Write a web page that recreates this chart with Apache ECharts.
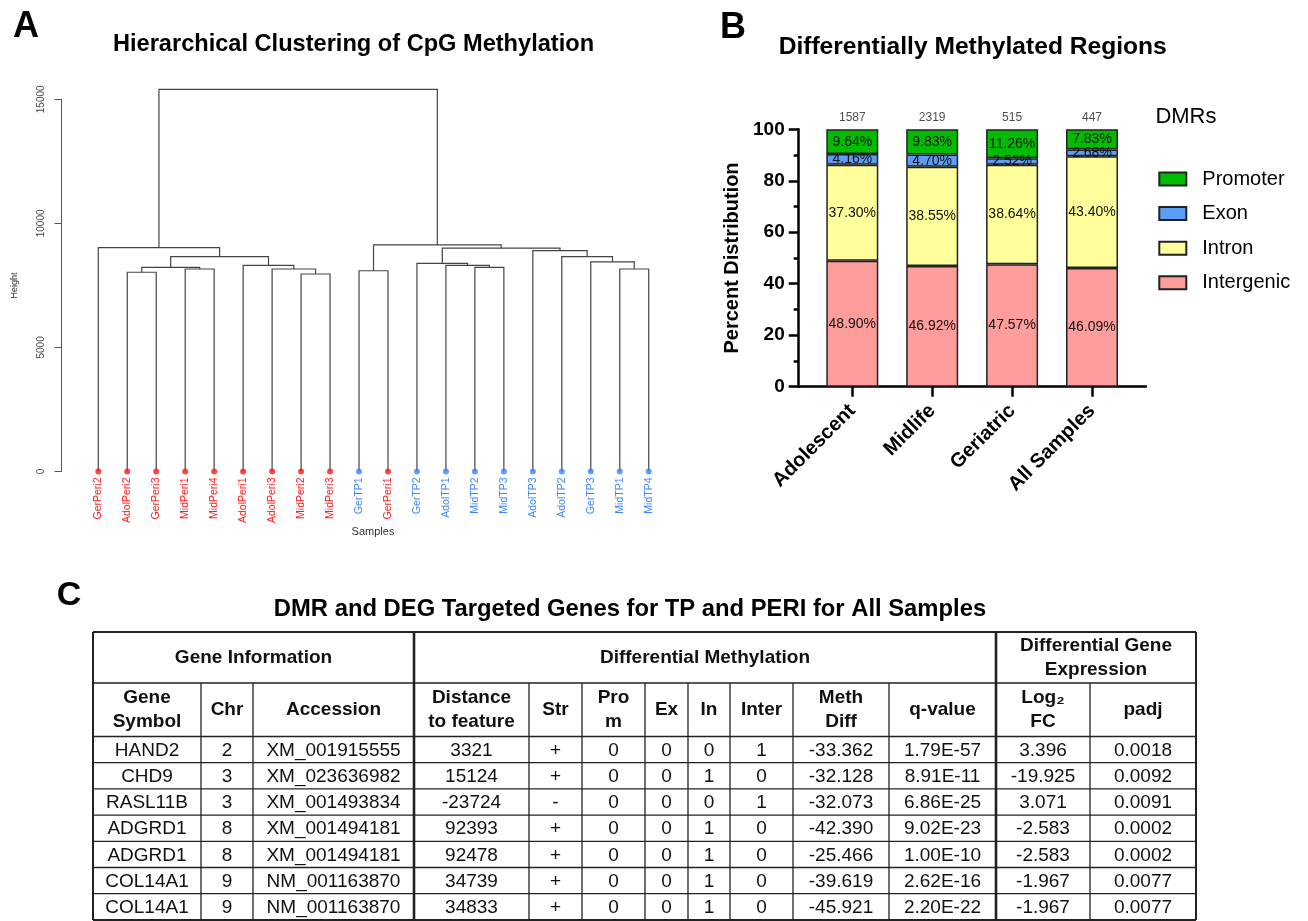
<!DOCTYPE html>
<html>
<head>
<meta charset="utf-8">
<script src="https://cdn.jsdelivr.net/npm/echarts@6/dist/echarts.min.js"></script>
<style>
  html, body { margin: 0; padding: 0; background: #fff; }
  #main { width: 1308px; height: 921px; }
</style>
</head>
<body>
<div id="main"></div>
<script>
// ---- panel A : dendrogram data ----
var leafLabels = ['GerPeri2', 'AdolPeri2', 'GerPeri3', 'MidPeri1', 'MidPeri4', 'AdolPeri1', 'AdolPeri3', 'MidPeri2', 'MidPeri3', 'GerTP1',
                  'GerPeri1', 'GerTP2', 'AdolTP1', 'MidTP2', 'MidTP3', 'AdolTP3', 'AdolTP2', 'GerTP3', 'MidTP1', 'MidTP4'];
// hclust style merge table: negative = leaf (1-based), positive = earlier merge row
var mergePairs = [[-8, -9], [-2, -3], [-10, -11], [-4, -5], [-7, 1], [-19, -20], [2, 4], [-14, -15], [-6, 5], [-13, 8],
                  [-12, 10], [-18, 6], [7, 9], [-17, 12], [-16, 14], [11, 15], [-1, 13], [3, 16], [17, 18]];
var mergeHeights = [7960, 8030, 8090, 8160, 8160, 8160, 8230, 8230, 8310, 8310,
                    8390, 8450, 8660, 8660, 8900, 9000, 9020, 9130, 15400];
var heightTicks = [0, 15000, 5000];

// ---- panel B : stacked bars ----
var ageGroups = ['Adolescent', 'Midlife', 'Geriatric', 'All Samples'];
var dmrCounts = [1587, 2319, 515, 447];
var intergenic = [48.90, 46.92, 47.57, 46.09];
var intron = [37.30, 38.55, 38.64, 43.40];
var exon = [4.16, 4.70, 2.52, 2.68];
var promoter = [9.64, 9.83, 11.26, 7.83];

// ---- panel C : table ----
var geneSymbols = ['HAND2', 'CHD9', 'RASL11B', 'ADGRD1', 'ADGRD1', 'COL14A1', 'COL14A1'];
var chromosomes = ['2', '3', '3', '8', '8', '9', '9'];
var accessions = ['XM_001915555', 'XM_023636982', 'XM_001493834', 'XM_001494181', 'XM_001494181', 'NM_001163870', 'NM_001163870'];
var distances = ['3321', '15124', '-23724', '92393', '92478', '34739', '34833'];
var strands = ['+', '+', '-', '+', '+', '+', '+'];
var inProm = [0, 0, 0, 0, 0, 0, 0];
var inExon = [0, 0, 0, 0, 0, 0, 0];
var inIntron = [0, 1, 0, 1, 1, 1, 1];
var inInter = [1, 0, 1, 0, 0, 0, 0];
var methDiff = ['-33.362', '-32.128', '-32.073', '-42.390', '-25.466', '-39.619', '-45.921'];
var qValues = ['1.79E-57', '8.91E-11', '6.86E-25', '9.02E-23', '1.00E-10', '2.62E-16', '2.20E-22'];
var log2FC = ['3.396', '-19.925', '3.071', '-2.583', '-2.583', '-1.967', '-1.967'];
var padj = ['0.0018', '0.0092', '0.0091', '0.0002', '0.0002', '0.0077', '0.0077'];
var groupHeaders = ['Gene Information', 'Differential Methylation', 'Differential Gene\nExpression'];
var columnHeaders = ['Gene\nSymbol', 'Chr', 'Accession', 'Distance\nto feature', 'Str', 'Pro\nm', 'Ex', 'In', 'Inter',
                     'Meth\nDiff', 'q-value', 'Log\u2082\nFC', 'padj'];

var FONT = '"Liberation Sans", Arial, sans-serif';
var RED = '#ff1a1a', BLUE = '#3a86ff';

// dendrogram segments from the merge table
var buildTree = function() {
    var nodes = [];
    var segs = [];
    var pos = function(ref) {
        if (ref < 0) return [-ref - 1, 0];
        return nodes[ref - 1];
    };
    for (var k = 0; k < mergePairs.length; k++) {
        var a = pos(mergePairs[k][0]);
        var b = pos(mergePairs[k][1]);
        var h = mergeHeights[k];
        segs.push({ coords: [[a[0], a[1]], [a[0], h], [b[0], h], [b[0], b[1]]] });
        nodes.push([(a[0] + b[0]) / 2, h]);
    }
    return segs;
};

var leafColor = function(name) {
    return name.indexOf('Peri') >= 0 ? RED : BLUE;
};

// table drawn with graphic elements
var buildTable = function() {
    var cols = [93, 201, 253, 414, 529, 582, 645, 688, 730, 793, 889, 996, 1090, 1196];
    var top = 632, h1 = 683, h2 = 736.5, rowH = 26.2;
    var nRows = geneSymbols.length;
    var bottom = h2 + nRows * rowH;
    var els = [];
    var line = function(x1, y1, x2, y2, w) {
        els.push({ type: 'line', shape: { x1: x1, y1: y1, x2: x2, y2: y2 }, style: { stroke: '#222', lineWidth: w }, silent: true });
    };
    var text = function(x, y, s, bold) {
        els.push({ type: 'text', x: x, y: y, silent: true,
            style: { text: s, fill: '#111', font: (bold ? 'bold ' : '') + '19px ' + FONT,
                     align: 'center', verticalAlign: 'middle', lineHeight: 24 } });
    };
    // horizontal rules
    line(cols[0], top, cols[13], top, 2);
    line(cols[0], h1, cols[13], h1, 1.5);
    line(cols[0], h2, cols[13], h2, 1.5);
    for (var r = 1; r < nRows; r++) line(cols[0], h2 + r * rowH, cols[13], h2 + r * rowH, 1.3);
    line(cols[0], bottom, cols[13], bottom, 2);
    // vertical rules
    for (var c = 0; c < cols.length; c++) {
        var full = (c === 0 || c === 3 || c === 11 || c === 13);
        var w = (c === 3 || c === 11) ? 2.6 : (full ? 2 : 1.3);
        line(cols[c], full ? top : h1, cols[c], bottom, w);
    }
    // group header
    text((cols[0] + cols[3]) / 2, (top + h1) / 2, groupHeaders[0], true);
    text((cols[3] + cols[11]) / 2, (top + h1) / 2, groupHeaders[1], true);
    text((cols[11] + cols[13]) / 2, (top + h1) / 2, groupHeaders[2], true);
    for (c = 0; c < columnHeaders.length; c++) {
        text((cols[c] + cols[c + 1]) / 2, (h1 + h2) / 2, columnHeaders[c], true);
    }
    for (r = 0; r < nRows; r++) {
        var row = [geneSymbols[r], chromosomes[r], accessions[r], distances[r], strands[r], inProm[r], inExon[r],
                   inIntron[r], inInter[r], methDiff[r], qValues[r], log2FC[r], padj[r]];
        for (c = 0; c < row.length; c++) {
            text((cols[c] + cols[c + 1]) / 2, h2 + (r + 0.5) * rowH + 1, String(row[c]), false);
        }
    }
    return els;
};

var label = function(x, y, s, size, weight, align, fill) {
    return { type: 'text', x: x, y: y, silent: true,
        style: { text: s, fill: fill || '#000', font: (weight || 'normal') + ' ' + size + 'px ' + FONT,
                 align: align || 'center', verticalAlign: 'middle' } };
};

var barSeries = function(name, data, color) {
    return {
        name: name, type: 'bar', stack: 'total', xAxisIndex: 3, yAxisIndex: 2, barWidth: 52,
        data: data,
        itemStyle: { color: color, borderColor: '#222', borderWidth: 1.5 },
        label: { show: true, position: 'inside', fontSize: 14, fontFamily: FONT, color: '#111',
                 formatter: function(p) { return p.value.toFixed(2) + '%'; } }
    };
};

var chart = echarts.init(document.getElementById('main'));
var option = {
    animation: false,
    backgroundColor: '#fff',
    grid: [
        { left: 83.8, top: 99.3, width: 579.4, height: 372.2 },
        { left: 798.7, top: 129.3, width: 347.2, height: 257.4 },
        { left: 812.35, top: 129.3, width: 319.6, height: 257.4 },
        { left: 61.5, top: 99.3, width: 10, height: 372.2 }
    ],
    xAxis: [
        { type: 'category', gridIndex: 0, data: leafLabels, axisLine: { show: false }, axisTick: { show: false },
          axisLabel: { interval: 0, rotate: 90, margin: 6, fontSize: 10.5, fontFamily: FONT,
                       color: function(v) { return leafColor(v); } } },
        { type: 'value', gridIndex: 0, min: -0.5, max: 19.5, show: false },
        { type: 'value', gridIndex: 1, min: 0, max: 1, axisLine: { show: true, lineStyle: { color: '#000', width: 2.5 } },
          axisTick: { show: false }, axisLabel: { show: false }, splitLine: { show: false } },
        { type: 'category', gridIndex: 2, data: ageGroups, axisLine: { show: false },
          axisTick: { show: true, alignWithLabel: true, length: 10, lineStyle: { color: '#000', width: 2.5 } },
          axisLabel: { interval: 0, rotate: 45, margin: 21, fontSize: 20, fontWeight: 'bold', fontFamily: FONT, color: '#000' } },
        { type: 'value', gridIndex: 3, show: false }
    ],
    yAxis: [
        { type: 'value', gridIndex: 0, min: heightTicks[0], max: heightTicks[1], show: false },
        { type: 'value', gridIndex: 1, min: 0, max: 100, interval: 20,
          axisLine: { show: true, lineStyle: { color: '#000', width: 2.5 } },
          axisTick: { show: true, length: 10, lineStyle: { color: '#000', width: 2.5 } },
          minorTick: { show: true, splitNumber: 2, length: 5, lineStyle: { color: '#000', width: 2.5 } },
          axisLabel: { margin: 14, fontSize: 19, fontWeight: 'bold', fontFamily: FONT, color: '#000' },
          splitLine: { show: false }, minorSplitLine: { show: false },
          name: 'Percent Distribution', nameLocation: 'middle', nameRotate: 90, nameGap: 56,
          nameTextStyle: { fontSize: 20, fontWeight: 'bold', fontFamily: FONT, color: '#000' } },
        { type: 'value', gridIndex: 2, min: 0, max: 100, show: false },
        { type: 'value', gridIndex: 3, min: heightTicks[0], max: heightTicks[1], interval: heightTicks[2],
          axisLine: { show: true, lineStyle: { color: '#555', width: 1 } },
          axisTick: { show: true, length: 7, lineStyle: { color: '#555' } },
          axisLabel: { rotate: 90, margin: 15, fontSize: 10, fontFamily: FONT, color: '#444',
                       formatter: function(v) { return String(v); } },
          splitLine: { show: false },
          name: 'Height', nameLocation: 'middle', nameRotate: 90, nameGap: 42,
          nameTextStyle: { fontSize: 9, fontFamily: FONT, color: '#333' } }
    ],
    legend: {
        data: ['Promoter', 'Exon', 'Intron', 'Intergenic'],
        orient: 'vertical', left: 1158.3, top: 169, padding: 0, itemWidth: 27, itemHeight: 13, itemGap: 14.6,
        icon: 'rect',
        textStyle: { fontSize: 20, fontFamily: FONT, color: '#000', lineHeight: 20, padding: [0, 0, 0, 11] }
    },
    series: [
        {
            type: 'lines', coordinateSystem: 'cartesian2d', xAxisIndex: 1, yAxisIndex: 0, polyline: true,
            clip: false, silent: true,
            lineStyle: { color: '#444', width: 1.2, opacity: 1 },
            data: buildTree()
        },
        {
            type: 'scatter', xAxisIndex: 1, yAxisIndex: 0, symbolSize: 6, clip: false, silent: true,
            data: leafLabels.map(function(n, i) { return { value: [i, 0], itemStyle: { color: leafColor(n) } }; })
        },
        barSeries('Intergenic', intergenic, '#ff9c9c'),
        barSeries('Intron', intron, '#ffff9c'),
        barSeries('Exon', exon, '#5c9ef5'),
        barSeries('Promoter', promoter, '#00bb00'),
        {
            type: 'scatter', xAxisIndex: 3, yAxisIndex: 2, symbolSize: 0, silent: true,
            itemStyle: { color: 'transparent' },
            data: dmrCounts.map(function(c, i) { return [i, 100]; }),
            label: { show: true, position: 'top', distance: 6, fontSize: 12, fontFamily: FONT, color: '#222',
                     formatter: function(p) { return String(dmrCounts[p.dataIndex]); } }
        }
    ],
    graphic: [
        label(26, 27, 'A', 36, 'bold'),
        label(353.5, 44, 'Hierarchical Clustering of CpG Methylation', 23.6, 'bold'),
        label(373, 532, 'Samples', 11, 'normal', 'center', '#333'),
        label(733, 28, 'B', 36, 'bold'),
        label(972.7, 47, 'Differentially Methylated Regions', 24.6, 'bold'),
        label(1155.4, 117.3, 'DMRs', 22, 'normal', 'left'),
        label(69, 596, 'C', 34, 'bold'),
        label(630, 609, 'DMR and DEG Targeted Genes for TP and PERI for All Samples', 23.8, 'bold')
    ].concat(buildTable())
};
chart.setOption(option);
</script>
</body>
</html>
